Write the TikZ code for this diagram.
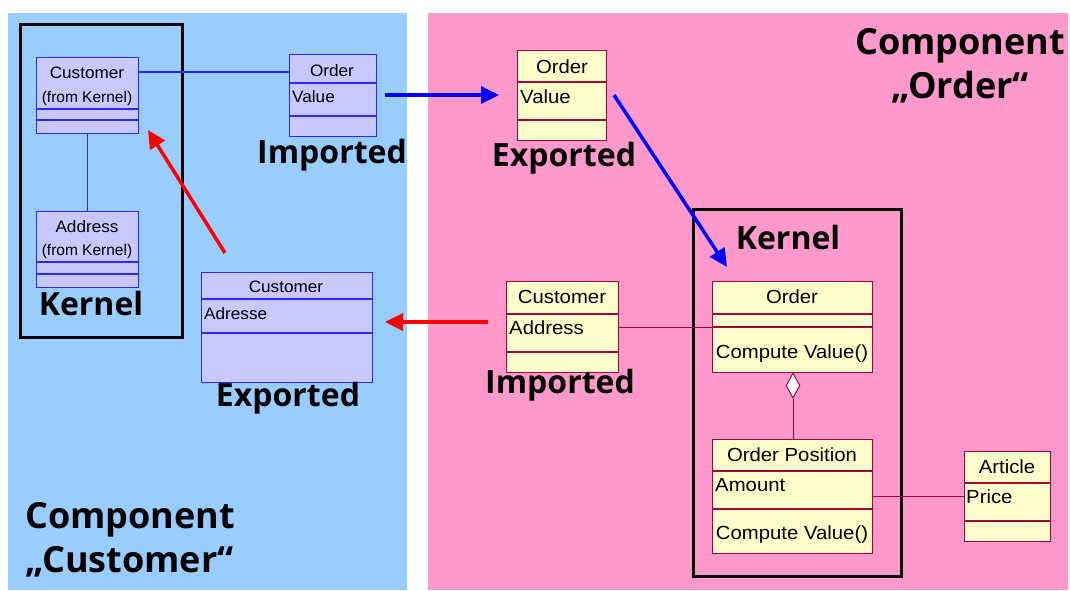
\documentclass[tikz,border=0pt]{standalone}
\usepackage{fontspec}
\setmainfont{Liberation Sans}
\newfontfamily\labelfont{Open Sans}
\newfontfamily\rboxfont[FakeStretch=1.07]{Liberation Sans}
\newfontfamily\lboxfont[FakeStretch=1.04]{Liberation Sans}
\usetikzlibrary{arrows.meta,shapes.geometric}
\definecolor{bluebg}{HTML}{99CCFF}
\definecolor{pinkbg}{HTML}{FF99CC}
\definecolor{lfill}{HTML}{C8C8FF}
\definecolor{lborder}{HTML}{2A2AFF}
\definecolor{yfill}{HTML}{FFFFCC}
\definecolor{rborder}{HTML}{A8003C}
\definecolor{arrowblue}{HTML}{0000FF}
\definecolor{arrowred}{HTML}{FF0000}
\begin{document}
\begin{tikzpicture}[x=1pt,y=-1pt,
  lbox/.style={rectangle,draw=lborder,fill=lfill,line width=1.3pt,inner sep=0,anchor=north west},
  rbox/.style={rectangle,draw=rborder,fill=yfill,line width=1.1pt,inner sep=0,anchor=north west},
  kbox/.style={rectangle,draw=black,line width=3pt,inner sep=0,anchor=north west},
  ldiv/.style={draw=lborder,line width=1.3pt},
  rdiv/.style={draw=rborder,line width=1.1pt},
  lconn/.style={draw=lborder,line width=1.2pt},
  rconn/.style={draw=rborder,line width=1pt},
  ltext/.style={font=\lboxfont\fontsize{16.5}{17}\selectfont,inner sep=0},
  rtext/.style={font=\rboxfont\fontsize{19}{19}\selectfont,inner sep=0},
  big/.style={font=\labelfont\bfseries\fontsize{32}{38}\selectfont,inner sep=0,align=center},
  comp/.style={font=\labelfont\bfseries\fontsize{36}{44}\selectfont,inner sep=0},
  barrow/.style={draw=arrowblue,line width=3.5pt,-{Triangle[length=18pt,width=17pt]}},
  rarrow/.style={draw=arrowred,line width=3.5pt,-{Triangle[length=18pt,width=17pt]}}
]
\useasboundingbox (0,0) rectangle (1070,590);
\fill[white] (0,0) rectangle (1070,590);
% panels
\fill[bluebg] (8,13) rectangle (407,590);
\fill[pinkbg] (428,13) rectangle (1068,590);

% ===== Left component =====
\node[kbox,minimum width=162,minimum height=313] (kernL) at (19,23) {};
\node[lbox,minimum width=102,minimum height=76] (custk) at (36,57) {};
\draw[ldiv] (36,109) -- (138,109) (36,120) -- (138,120);
\node[ltext] (custkT) at (87,73) {Customer};
\node[ltext,font=\fontsize{15.5}{16}\selectfont] (custkF) at (87,98) {(from Kernel)};

\node[lbox,minimum width=102,minimum height=76] (addr) at (36,211) {};
\draw[ldiv] (36,262) -- (138,262) (36,274) -- (138,274);
\node[ltext] (addrT) at (87,227) {Address};
\node[ltext,font=\fontsize{15.5}{16}\selectfont] (addrF) at (87,251) {(from Kernel)};

\node[big] (kernLT) at (91,303) {Kernel};

\node[lbox,minimum width=87,minimum height=82] (ordimp) at (289,54) {};
\draw[ldiv] (289,83) -- (376,83) (289,116) -- (376,116);
\node[ltext] (ordimpT) at (332,71) {Order};
\node[ltext,anchor=west] (ordimpV) at (292,97) {Value};
\node[big] (impL) at (332,155) {Imported};

\node[lbox,minimum width=171,minimum height=110] (custexp) at (201,272) {};
\draw[ldiv] (201,299) -- (372,299) (201,333) -- (372,333);
\node[ltext] (custexpT) at (286,287) {Customer};
\node[ltext,anchor=west] (custexpA) at (204,314) {Adresse};
\node[big] (expL) at (288,398) {Exported};

\node[comp,anchor=west,align=left] (compC) at (25,540) {Component\\\char"201E Customer\char"201C};

% left connectors
\draw[lconn] (custk.south) -- (addr.north);
\draw[lconn] ([yshift=-15pt]custk.north east) -- ([yshift=-18pt]ordimp.north west);

% ===== Right component =====
\node[comp,align=center] (compO) at (960,66) {Component\\\char"201E Order\char"201C};

\node[rbox,minimum width=89,minimum height=90] (ordexp) at (517,50) {};
\draw[rdiv] (517,82) -- (606,82) (517,120) -- (606,120);
\node[rtext] (ordexpT) at (562,67) {Order};
\node[rtext,anchor=west] (ordexpV) at (520,97) {Value};
\node[big] (expR) at (564,158) {Exported};

\node[kbox,minimum width=208,minimum height=367] (kernR) at (692,208) {};
\node[big] (kernRT) at (788,237) {Kernel};

\node[rbox,minimum width=112,minimum height=91] (custimp) at (506,281) {};
\draw[rdiv] (506,314) -- (618,314) (506,352) -- (618,352);
\node[rtext] (custimpT) at (562,297) {Customer};
\node[rtext,anchor=west] (custimpA) at (509,328) {Address};
\node[big] (impR) at (560,385) {Imported};

\node[rbox,minimum width=160,minimum height=91] (ordk) at (712,281) {};
\draw[rdiv] (712,314) -- (872,314) (712,327) -- (872,327);
\node[rtext] (ordkT) at (792,297) {Order};
\node[rtext] (ordkC) at (792,354) {Compute Value()};

\node[diamond,draw=rborder,fill=white,line width=1pt,inner sep=0,minimum width=14pt,minimum height=25pt,aspect=0.56] (dia) at (793,385.5) {};

\node[rbox,minimum width=160,minimum height=114] (ordpos) at (712,439) {};
\draw[rdiv] (712,471) -- (872,471) (712,509) -- (872,509);
\node[rtext] (ordposT) at (792,455) {Order Position};
\node[rtext,anchor=west] (ordposA) at (715,485) {Amount};
\node[rtext] (ordposC) at (792,535) {Compute Value()};

\node[rbox,minimum width=86,minimum height=90] (art) at (964,451) {};
\draw[rdiv] (964,483) -- (1050,483) (964,521) -- (1050,521);
\node[rtext] (artT) at (1007,467) {Article};
\node[rtext,anchor=west] (artP) at (966,497) {Price};

% right connectors
\draw[rconn] ([yshift=-46pt]custimp.north east) -- ([yshift=-46pt]ordk.north west);
\draw[rconn] (dia.south) -- (dia.south |- ordpos.north);
\draw[rconn] ([yshift=-57pt]ordpos.north east) -- ([yshift=-45pt]art.north west);

% arrows
\coordinate (b1s) at (385,95);
\coordinate (b1e) at (499,95);
\draw[barrow] (b1s) -- (b1e);
\coordinate (b2s) at (614,95);
\coordinate (b2e) at (727,267);
\draw[barrow] (b2s) -- (b2e);
\coordinate (r1s) at (225,253);
\coordinate (r1e) at (148,130);
\draw[rarrow] (r1s) -- (r1e);
\coordinate (r2s) at (488,322);
\coordinate (r2e) at (385,322);
\draw[rarrow] (r2s) -- (r2e);
\end{tikzpicture}
\end{document}
